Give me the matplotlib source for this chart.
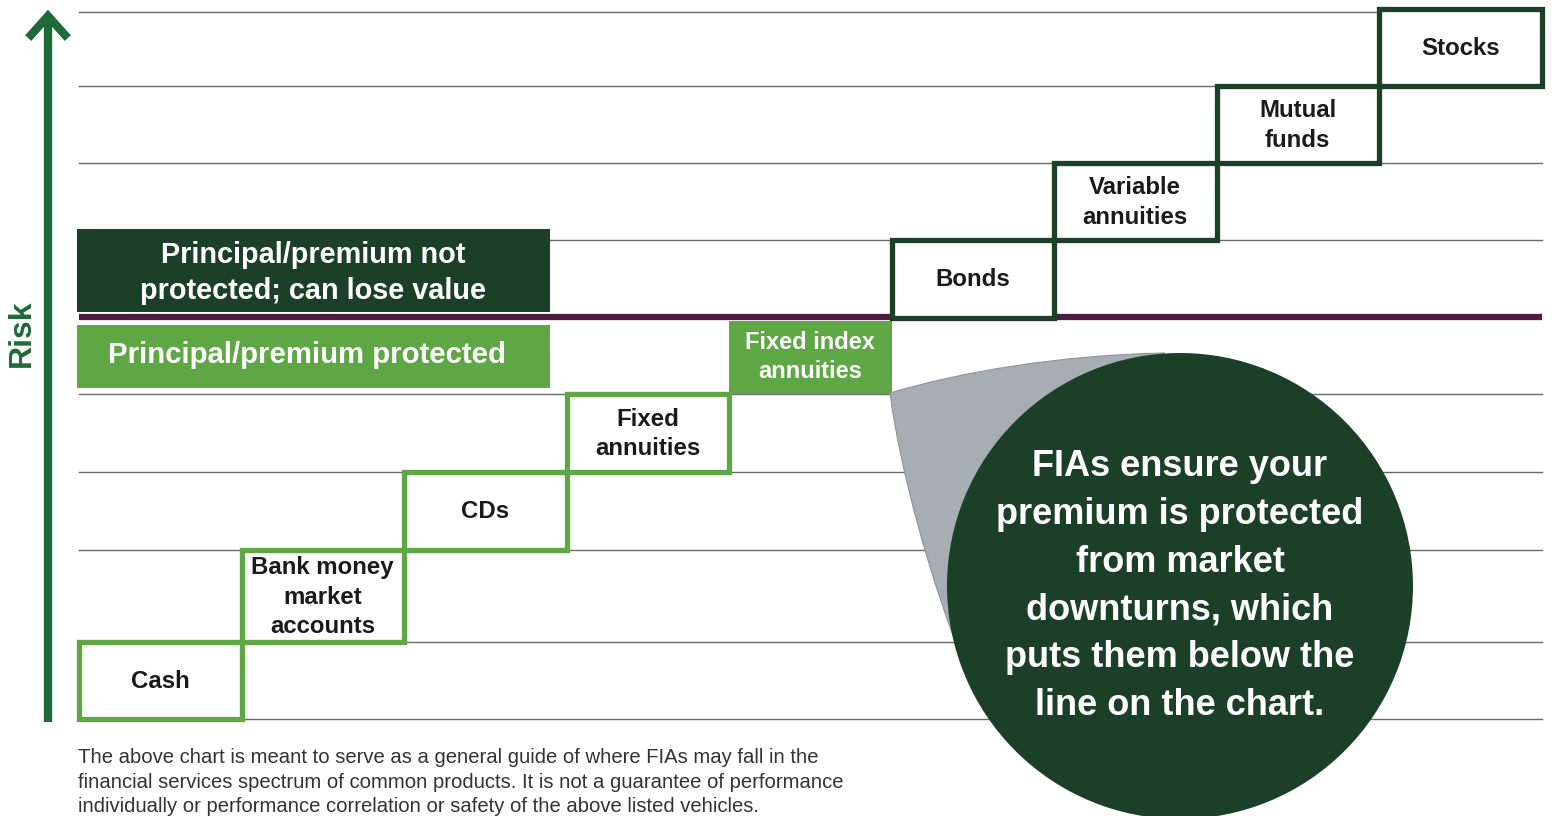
import matplotlib.pyplot as plt
import numpy as np
from matplotlib.patches import Rectangle, Circle, PathPatch
from matplotlib.path import Path

# products ordered by risk (low -> high)
products = ["Cash", "Bank money\nmarket\naccounts", "CDs", "Fixed\nannuities",
            "Fixed index\nannuities", "Bonds", "Variable\nannuities",
            "Mutual\nfunds", "Stocks"]
risk_rank = [0, 1, 2, 3, 4, 5, 6, 7, 8]
protected = [True, True, True, True, True, False, False, False, False]

banner_top = "Principal/premium not\nprotected; can lose value"
banner_bottom = "Principal/premium protected"
bubble_text = ("FIAs ensure your\npremium is protected\nfrom market\n"
               "downturns, which\nputs them below the\nline on the chart.")
footnote = ("The above chart is meant to serve as a general guide of where FIAs may fall in the\n"
            "financial services spectrum of common products. It is not a guarantee of performance\n"
            "individually or performance correlation or safety of the above listed vehicles.")

# colours
light_green = "#5fa644"
dark_green = "#1c4027"
arrow_green = "#1f6a38"
purple = "#4b1d3f"
grey_line = "#6a6a6a"

# layout (pixel space)
x0, col_w = 79, 162.5
row_edges = [719, 642, 550, 472, 394, 318, 240, 163, 86, 9]
divider_y = 317
FONT = "Liberation Sans"

fig = plt.figure(figsize=(15.52, 8.16), dpi=100)
ax = fig.add_axes([0, 0, 1, 1])
ax.set_xlim(0, 1552)
ax.set_ylim(816, 0)
ax.axis("off")

# horizontal guide lines
for k, y in enumerate(row_edges):
    if k == 5:
        continue
    x_end = 1542 if k < 9 else 1379
    yy = y + 3 if k == 9 else y
    ax.plot([79, x_end], [yy, yy], color=grey_line, lw=1.0, zorder=1)

# divider line (protected / not protected)
ax.plot([79, 1542], [divider_y, divider_y], color=purple, lw=4.5,
        solid_capstyle="butt", zorder=3)

# product boxes
for name, r, prot in zip(products, risk_rank, protected):
    left = x0 + r * col_w
    bottom = row_edges[r]
    top = row_edges[r + 1]
    if r == 4:
        rect = Rectangle((left, top + 3), col_w, bottom - top - 3, facecolor=light_green,
                         edgecolor="none", zorder=4)
        ax.add_patch(rect)
        ax.text(left + col_w / 2, (top + bottom) / 2 + 1, name, ha="center", va="center",
                color="white", fontsize=17, fontweight="bold", family=FONT,
                linespacing=1.35, zorder=5)
        continue
    ec = light_green if prot else dark_green
    rect = Rectangle((left, top), col_w, bottom - top, facecolor="white",
                     edgecolor=ec, lw=3.8, zorder=4)
    ax.add_patch(rect)
    ax.text(left + col_w / 2, (top + bottom) / 2 + 1, name, ha="center", va="center",
            color="#1a1a1a", fontsize=17.3, fontweight="bold", family=FONT,
            linespacing=1.35, zorder=5)

# banners
ax.add_patch(Rectangle((77, 229), 473, 83, facecolor=dark_green, edgecolor="none", zorder=4))
ax.text(313, 273, banner_top, ha="center", va="center", color="white", fontsize=20.8,
        fontweight="bold", family=FONT, linespacing=1.35, zorder=5)
ax.add_patch(Rectangle((77, 325), 473, 63, facecolor=light_green, edgecolor="none", zorder=4))
ax.text(307, 355, banner_bottom, ha="center", va="center", color="white", fontsize=21.2,
        fontweight="bold", family=FONT, zorder=5)

# risk arrow
ax.plot([48, 48], [722, 18], color=arrow_green, lw=6, solid_capstyle="butt", zorder=3)
ax.plot([31, 48, 65], [35, 16, 35], color=arrow_green, lw=6, solid_joinstyle="miter", zorder=3)
ax.text(22, 333, "Risk", rotation=90, ha="center", va="center", color=arrow_green,
        fontsize=23, fontweight="bold", family=FONT)

# speech bubble tail + circle
cx, cy, rad = 1180, 586, 233
verts = [(890, 393), (960, 372), (1060, 355), (1165, 353),
         (1010, 420), (950, 560), (968, 675),
         (930, 580), (900, 470), (890, 393)]
codes = [Path.MOVETO, Path.CURVE4, Path.CURVE4, Path.CURVE4,
         Path.CURVE4, Path.CURVE4, Path.CURVE4,
         Path.CURVE4, Path.CURVE4, Path.CURVE4]
ax.add_patch(PathPatch(Path(verts, codes), facecolor="#a7aeb3", edgecolor="#8d9499",
                       lw=0.8, zorder=6))
ax.add_patch(Circle((cx, cy), rad, facecolor=dark_green, edgecolor="none", zorder=7))
ax.text(cx, 586, bubble_text, ha="center", va="center", color="white", fontsize=26,
        fontweight="bold", family=FONT, linespacing=1.48, zorder=8)

# footnote
ax.text(78, 782, footnote, ha="left", va="center", color="#333333", fontsize=14.6,
        family=FONT, linespacing=1.35)

fig.savefig("out.png", dpi=100)
